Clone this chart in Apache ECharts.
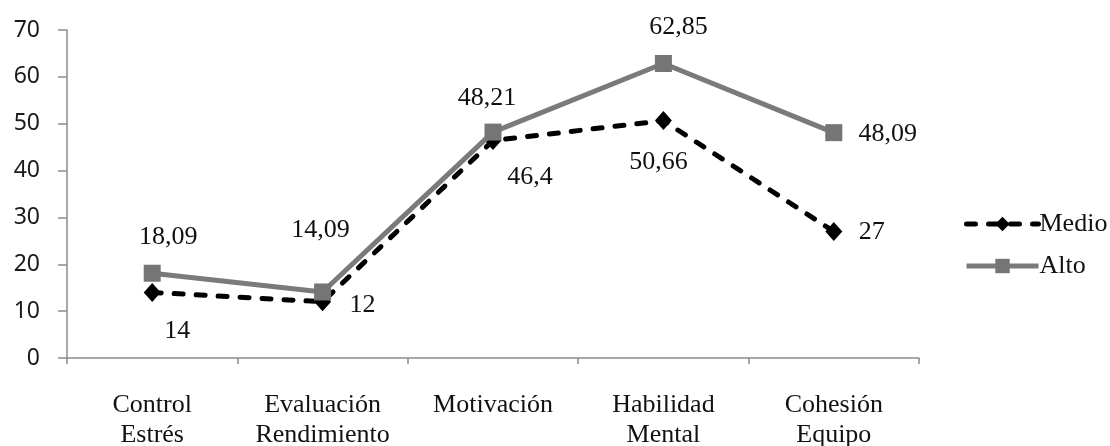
<!DOCTYPE html>
<html>
<head>
<meta charset="utf-8">
<script src="https://cdn.jsdelivr.net/npm/echarts@6/dist/echarts.min.js"></script>
<style>html,body{margin:0;padding:0;background:#fff}#c{width:1110px;height:446px}</style>
</head>
<body>
<div id="c"></div>
<script>
const categories = ['Control\nEstrés', 'Evaluación\nRendimiento', 'Motivación', 'Habilidad\nMental', 'Cohesión\nEquipo'];
const medio = [14, 12, 46.4, 50.66, 27];
const alto = [18.09, 14.09, 48.21, 62.85, 48.09];
const yTicks = [0, 10, 20, 30, 40, 50, 60, 70];

const medioLabelOffsets = [[25, 39], [40, 3], [37, 37], [-5, 42], [38, 1]];
const altoLabelOffsets = [[16, -36], [-2, -62], [-6, -34], [15, -36], [54, 2]];

const serif = '"Liberation Serif", "Times New Roman", serif';
const fmt = v => String(v).replace('.', ',');

function build(values, offsets) {
  return values.map((v, i) => ({
    value: v,
    label: { offset: offsets[i] }
  }));
}

const medioLine = { color: '#000', width: 5, type: [9, 13], cap: 'round' };
const altoLine = { color: '#7a7a7a', width: 5 };

const chart = echarts.init(document.getElementById('c'), null, { renderer: 'canvas' });
chart.setOption({
  animation: false,
  backgroundColor: '#fff',
  grid: { left: 67, right: 191, top: 30, bottom: 88, containLabel: false, outerBoundsMode: 'none' },
  legend: {
    orient: 'vertical',
    left: 959,
    top: 206,
    itemWidth: 72,
    itemHeight: 18,
    itemGap: 16,
    data: [
      { name: 'Medio', lineStyle: medioLine },
      { name: 'Alto', lineStyle: altoLine }
    ],
    textStyle: { fontFamily: serif, fontSize: 26, color: '#111', padding: [0, 0, 0, -4] }
  },
  xAxis: {
    type: 'category',
    data: categories,
    boundaryGap: true,
    axisLine: { lineStyle: { color: '#8c8c8c', width: 1.5 } },
    axisTick: { show: true, length: 6, lineStyle: { color: '#8c8c8c', width: 1.5 } },
    axisLabel: { fontFamily: serif, fontSize: 26, color: '#111', lineHeight: 30, margin: 32, interval: 0 },
    splitLine: { show: false }
  },
  yAxis: {
    type: 'value',
    min: yTicks[0],
    max: yTicks[yTicks.length - 1],
    interval: 10,
    axisLine: { show: true, lineStyle: { color: '#8c8c8c', width: 1.5 } },
    axisTick: { show: true, length: 9, lineStyle: { color: '#8c8c8c', width: 1.5 } },
    axisLabel: { fontFamily: '"Noto Sans", sans-serif', fontSize: 23, color: '#1a1a1a', margin: 27 },
    splitLine: { show: false }
  },
  series: [
    {
      name: 'Medio',
      type: 'line',
      data: build(medio, medioLabelOffsets),
      symbol: 'diamond',
      symbolSize: [17, 19],
      itemStyle: { color: '#000' },
      lineStyle: medioLine,
      label: {
        show: true, position: 'inside', align: 'center', verticalAlign: 'middle',
        fontFamily: serif, fontSize: 26, color: '#111',
        formatter: p => fmt(p.value)
      },
      z: 2
    },
    {
      name: 'Alto',
      type: 'line',
      data: build(alto, altoLabelOffsets),
      symbol: 'rect',
      symbolSize: 17,
      itemStyle: { color: '#757575' },
      lineStyle: altoLine,
      label: {
        show: true, position: 'inside', align: 'center', verticalAlign: 'middle',
        fontFamily: serif, fontSize: 26, color: '#111',
        formatter: p => fmt(p.value)
      },
      z: 3
    }
  ]
});
</script>
</body>
</html>
